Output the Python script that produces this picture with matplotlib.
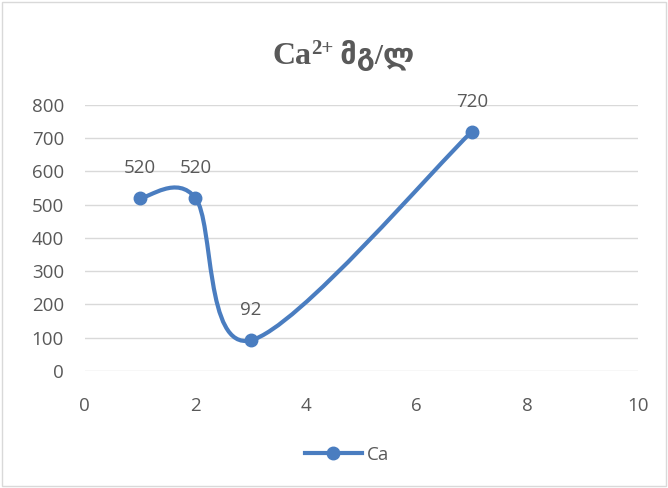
import matplotlib.pyplot as plt
from matplotlib.path import Path
from matplotlib.patches import PathPatch, Rectangle
from matplotlib.lines import Line2D

# data
x_vals = [1, 2, 3, 7]
y_vals = [520, 520, 92, 720]
point_labels = ["520", "520", "92", "720"]
series_name = "Ca"
title_parts = ["Ca", "2+", " მგ/ლ"]
x_ticks = [0, 2, 4, 6, 8, 10]
y_ticks = [0, 100, 200, 300, 400, 500, 600, 700, 800]

line_color = "#4A7DC0"
text_color = "#595959"
grid_color = "#D9D9D9"


def smooth_path(xs, ys):
    # Excel-style smoothed line: cubic bezier, catmull-rom control points
    n = len(xs)
    pts = list(zip(xs, ys))
    verts = [pts[0]]
    codes = [Path.MOVETO]
    for i in range(n - 1):
        p0 = pts[i - 1] if i > 0 else pts[i]
        p1 = pts[i]
        p2 = pts[i + 1]
        p3 = pts[i + 2] if i + 2 < n else pts[i + 1]
        c1 = (p1[0] + (p2[0] - p0[0]) / 6, p1[1] + (p2[1] - p0[1]) / 6)
        c2 = (p2[0] - (p3[0] - p1[0]) / 6, p2[1] - (p3[1] - p1[1]) / 6)
        verts += [c1, c2, p2]
        codes += [Path.CURVE4] * 3
    return Path(verts, codes)


fig = plt.figure(figsize=(6.68, 4.88), dpi=100)
ax = fig.add_axes([0.127, 0.240, 0.828, 0.545])

ax.add_patch(PathPatch(smooth_path(x_vals, y_vals), facecolor='none',
                       edgecolor=line_color, linewidth=3, zorder=3,
                       capstyle='round'))
ax.plot(x_vals, y_vals, linestyle='none', marker='o', markersize=9,
        color=line_color, zorder=4)

for x, y, lab in zip(x_vals, y_vals, point_labels):
    ax.annotate(lab, (x, y), xytext=(0, 15), textcoords='offset points',
                ha='center', va='bottom', fontsize=13.5, color=text_color,
                family='Open Sans')

ax.set_xlim(0, 10)
ax.set_ylim(0, 800)
ax.set_xticks(x_ticks)
ax.set_yticks(y_ticks)
ax.grid(axis='y', color=grid_color, linewidth=1)
ax.set_axisbelow(True)
for s in ax.spines.values():
    s.set_visible(False)
ax.tick_params(length=0, labelsize=13.5, labelcolor=text_color)
ax.tick_params(axis='y', pad=15)
ax.tick_params(axis='x', pad=19)
for lab in ax.get_xticklabels() + ax.get_yticklabels():
    lab.set_family('Open Sans')

# title built from pieces so the "2+" can sit raised and smaller
fams = ['Liberation Serif', 'DejaVu Sans']
base_y = 0.868
t1 = fig.text(0, base_y, title_parts[0], va='baseline', fontsize=23,
              fontweight='bold', color=text_color, family=fams)
t2 = fig.text(0, base_y + 0.022, title_parts[1], va='baseline', fontsize=15,
              fontweight='bold', color=text_color, family=fams)
t3 = fig.text(0, base_y, title_parts[2], va='baseline', fontsize=21,
              fontweight='bold', color=text_color, family=fams)
r = fig.canvas.get_renderer()
widths = [t.get_window_extent(r).width / fig.bbox.width for t in (t1, t2, t3)]
x0 = 0.514 - sum(widths) / 2
for t, w in zip((t1, t2, t3), widths):
    t.set_x(x0)
    x0 += w

handle = Line2D([], [], color=line_color, linewidth=3, marker='o',
                markersize=9)
fig.legend([handle], [series_name], loc='center', bbox_to_anchor=(0.52, 0.068),
           frameon=False, handlelength=3, handletextpad=0.3,
           prop={'family': 'Open Sans', 'size': 13.5}, labelcolor=text_color)

fig.add_artist(Rectangle((0.003, 0.004), 0.994, 0.992, transform=fig.transFigure,
                         fill=False, edgecolor=grid_color, linewidth=1))

fig.savefig('out.png', dpi=100)
